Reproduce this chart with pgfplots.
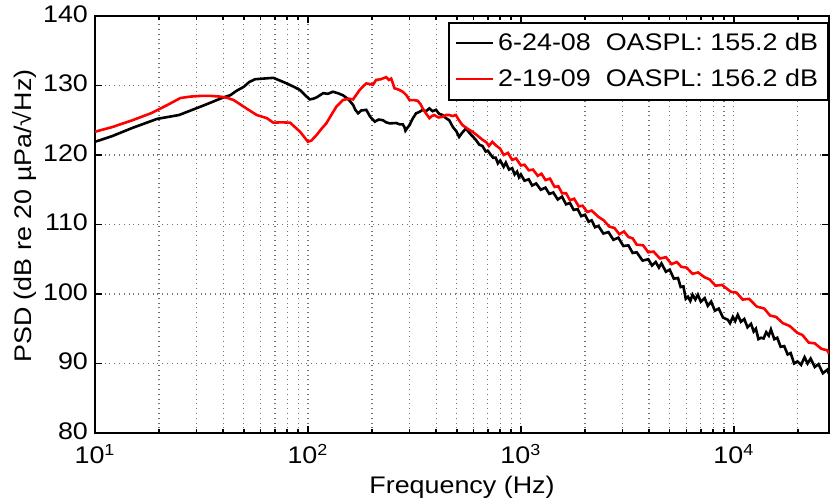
\documentclass[border=0pt]{standalone}
\usepackage{pgfplots}
\pgfplotsset{compat=1.18}
\usepackage{fontspec}
\setmainfont{Liberation Sans}[FakeStretch=1.12]
\newcommand{\ff}{\fontsize{12}{14}\selectfont}
\begin{document}
\begin{tikzpicture}[font=\ff]
\begin{axis}[name=ax, scale only axis, width=367pt, height=208.5pt,
 xmode=log, log basis x=10, xmin=10, xmax=28000, ymin=80, ymax=140,
 xtick={10,100,1000,10000},
 xticklabels={10\textsuperscript{1},10\textsuperscript{2},10\textsuperscript{3},10\textsuperscript{4}},
 minor xtick={20,30,40,50,60,70,80,90,200,300,400,500,600,700,800,900,2000,3000,4000,5000,6000,7000,8000,9000,20000},
 ytick={80,90,100,110,120,130,140},
 yticklabels={80,90,100,110,120,130,140},
 xmajorgrids, xminorgrids, ymajorgrids,
 grid style={dotted, black!55, line width=0.6pt},
 axis line style={line width=1pt},
 every tick/.style={black, line width=0.8pt},
 major tick length=3.5pt, minor tick length=2pt,
 tick label style={font=\ff},
 xticklabel style={yshift=-2pt},
 yticklabel style={yshift=1pt},
 xlabel={Frequency (Hz)}, ylabel={PSD (dB re 20 µPa/√Hz)},
 every axis x label/.style={at={(axis description cs:0.5,-0.1295)}, anchor=center, font=\ff},
 every axis y label/.style={at={(axis description cs:-0.0967,0.52)}, anchor=center, rotate=90, font=\ff},
 legend style={at={(axis description cs:1,0.986)}, anchor=north east, draw=black, line width=1pt, fill=white, font=\ff, inner sep=3pt, row sep=4pt},
 legend cell align=left,
 legend image code/.code={\draw[#1, line width=1pt] (0pt,0pt) -- (18.5pt,0pt);},
]
\addplot[black, line width=1.3pt] coordinates {
(10,121.9) (12,122.7) (15,123.9) (19.6,125.2) (24.8,125.75) (31.3,126.95) (36,127.7) (40.2,128.3) (43.2,128.6) (46,129.2) (49.9,129.8) (53,130.5) (56.5,130.9) (62,131.0) (68.8,131.1) (74,130.7) (79.5,130.3) (86,129.8) (91.8,129.35) (97,128.6) (102,128.0) (106,128.1) (110,128.3) (118,128.9) (124,128.8) (131,129.1) (138,128.9) (146,128.6) (155,128.0) (163,127.2) (167,126.5) (172,126.0) (178,126.4) (188,126.5) (196,125.5) (206,124.8) (215,125.1) (225,125.0) (233,124.7) (242,124.55) (260,124.6) (270,124.4) (279,124.4) (284,124.0) (287,123.5) (293,123.9) (300,124.3) (310,125.2) (322,126.0) (334,126.2) (346,126.5) (358,126.3) (372,126.7) (385,126.3) (399,126.5) (414,125.9) (429,125.75) (445,125.3) (461,125.0) (480,124.0) (498,123.4) (513,122.6) (530,123.2) (552,123.8) (580,123.0) (614,122.2) (637,121.5) (660,121.3) (684,120.5)
(700,120.6) (740,119.6) (762,119.6) (780,118.8) (800,119.2) (830,118.3) (850,118.9) (880,117.9) (910,118.1) (935,117.2) (960,117.6) (980,116.8) (1000,117.2) (1040,116.3) (1089,116.5) (1130,115.6) (1180,115.9) (1240,115.0) (1305,115.3) (1360,114.4) (1420,114.6) (1490,113.6) (1561,114.0) (1630,112.9) (1700,113.1) (1770,112.1) (1850,112.2) (1920,111.2) (2000,111.4) (2080,110.4) (2150,110.6) (2230,109.6) (2312,109.8) (2440,108.7) (2580,108.9) (2720,107.8) (2870,108.1) (3030,106.9) (3200,107.0) (3350,105.9) (3500,106.0) (3730,104.8) (3966,105.0) (4130,104.1) (4300,104.6) (4450,103.8) (4575,104.4) (4800,103.2) (5000,103.5) (5230,102.2) (5470,102.3) (5630,101.0) (5800,101.1) (5950,99.3) (6095,99.6) (6250,99.0) (6400,99.9) (6600,99.2) (6780,99.9) (7000,98.9) (7300,99.4) (7550,98.3) (7830,98.9) (8150,97.6) (8500,97.9) (8900,96.6) (9370,96.3) (9600,95.8) (9900,96.7) (10150,96.1) (10440,97.0) (10800,96.0) (11200,96.4) (11600,95.2) (12050,95.7) (12400,94.6) (12700,95.0) (13050,93.5) (13420,93.7) (13800,93.6) (14200,94.5) (14600,94.0) (14940,94.9) (15500,93.5) (16000,93.7) (16600,92.4) (17250,92.5) (17900,91.3) (18500,91.5) (19200,90.0) (19900,90.3) (20700,89.8) (21500,90.9) (22200,90.0) (22960,90.7) (24000,89.5) (25000,89.9) (26200,88.6) (27500,89.1) (28000,88.5)
};
\addlegendentry{6-24-08\ \ OASPL: 155.2 dB}
\addplot[red, line width=1.3pt] coordinates {
(10,123.35) (12,124.0) (15,125.0) (18.3,126.0) (21.9,127.2) (25.2,128.2) (28,128.4) (31.3,128.5) (35,128.5) (38.8,128.4) (42,128.2) (44.8,127.9) (48,127.3) (52,126.6) (57.5,125.75) (64.1,125.3) (68.8,124.65) (75,124.7) (82.4,124.65) (87,124.0) (91.8,123.35) (96,122.6) (100,121.9) (104,122.1) (110,122.9) (116,123.8) (122,124.55) (129,125.8) (136,126.95) (146,127.9) (155,128.1) (163,128.0) (169,128.7) (175,129.35) (182,129.9) (188,130.3) (196,130.2) (202,130.1) (209,130.8) (220,130.9) (233,131.2) (240,130.8) (246,131.0) (250,130.4) (255,129.6) (267,129.4) (279,129.1) (290,128.6) (300,127.9) (314,127.9) (328,127.8) (338,127.3) (346,126.7) (358,126.0) (372,125.3) (382,125.6) (392,125.75) (410,125.4) (429,125.5) (445,125.75) (461,125.75) (478,125.6) (495,125.75) (512,125.0) (532,124.3) (560,123.8) (592,123.35) (625,122.8) (660,122.2)
(690,121.8) (708,121.3) (735,121.9) (762,121.4) (800,120.9) (830,120.0) (870,120.3) (910,119.3) (950,119.5) (1000,118.5) (1040,118.6) (1089,117.8) (1140,117.9) (1200,117.0) (1250,117.3) (1305,116.4) (1370,116.6) (1440,115.4) (1500,115.5) (1561,114.5) (1630,114.5) (1700,113.5) (1780,113.7) (1870,112.6) (1950,112.7) (2050,111.8) (2150,112.0) (2312,111.1) (2450,110.6) (2600,109.7) (2750,109.5) (2900,108.6) (3050,109.0) (3199,108.2) (3350,108.0) (3500,107.1) (3750,107.0) (3966,106.0) (4200,106.1) (4500,105.1) (4800,105.3) (5100,104.3) (5400,104.6) (5675,103.9) (6000,103.8) (6400,102.9) (6800,103.1) (7300,102.4) (7700,102.1) (8200,101.2) (8800,101.3) (9710,100.3) (10300,100.2) (11000,99.2) (11800,99.3) (12800,98.2) (13900,97.9) (14800,96.9) (15800,96.7) (17000,95.8) (18300,95.4) (19900,94.4) (21000,94.1) (22500,93.0) (24000,92.9) (25800,92.1) (27500,91.9) (28000,91.4)
};
\addlegendentry{2-19-09\ \ OASPL: 156.2 dB}
\end{axis}
\pgfresetboundingbox
\path ([xshift=-47.5pt,yshift=-35.5pt]ax.south west) rectangle ([xshift=0.5pt,yshift=8pt]ax.north east);
\end{tikzpicture}
\end{document}
